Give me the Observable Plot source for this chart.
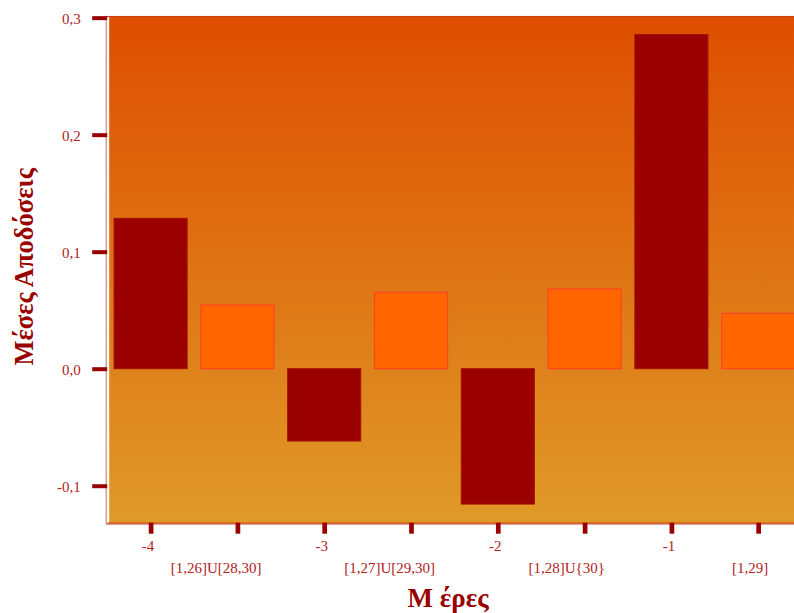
<!DOCTYPE html>
<html>
<head>
<meta charset="utf-8">
<script src="https://cdn.jsdelivr.net/npm/d3@7"></script>
<script src="https://cdn.jsdelivr.net/npm/@observablehq/plot@0.6"></script>
<style>
  html, body { margin: 0; padding: 0; background: #ffffff; overflow: hidden; }
  #chart { width: 794px; height: 613px; overflow: hidden; }
  #chart svg { display: block; }
</style>
</head>
<body>
<div id="chart"></div>
<script>
// Day groups on the horizontal axis, in drawing order
const categories = ["-4", "[1,26]U[28,30]", "-3", "[1,27]U[29,30]", "-2", "[1,28]U{30}", "-1", "[1,29]"];
// Mean return of each group
const meanReturns = [0.1285, 0.0544, -0.0618, 0.0653, -0.1157, 0.0681, 0.2856, 0.0473];
// Vertical axis ticks and their labels (comma decimals)
const yTicks = [-0.1, 0.0, 0.1, 0.2, 0.3];
const yTickLabels = ["-0,1", "0,0", "0,1", "0,2", "0,3"];

const yTitle = "Μέσες Αποδόσεις";
const xTitle = "Μ έρες";

const rows = categories.map((c, i) => ({
  day: c,
  value: meanReturns[i],
  single: i % 2 === 0,
  row: i % 2
}));

const serif = "'Liberation Serif', 'Times New Roman', serif";

const chart = Plot.plot({
  width: 794,
  height: 613,
  marginTop: 16,
  marginBottom: 90.3,
  marginLeft: 107.2,
  marginRight: 0,
  style: { fontFamily: serif, background: "transparent", overflow: "hidden" },
  x: { type: "band", domain: categories, range: [107.2, 801.6], paddingInner: 0.158, paddingOuter: 0.079, round: false },
  y: { domain: [-0.1316, 0.3014] },
  marks: [
    // plot panel: pink edge, then gradient body
    Plot.frame({ stroke: "#d08888", strokeWidth: 1.2, insetLeft: -1.5, insetBottom: -1 }),
    Plot.frame({ fill: "url(#panelGradient)", insetLeft: 1.5 }),
    Plot.ruleY([0.3014], { stroke: "#c8401a", strokeWidth: 1 }),
    Plot.ruleY([-0.1316], { stroke: "#d04a10", strokeWidth: 1.2 }),

    // bars
    Plot.barY(rows.filter(d => d.single), {
      x: "day", y: "value", fill: "#9a0000", stroke: "#a41200", strokeWidth: 1
    }),
    Plot.barY(rows.filter(d => !d.single), {
      x: "day", y: "value", fill: "#ff6600", stroke: "#ff4422", strokeWidth: 1.2
    }),

    // y axis: thick ticks, then labels
    Plot.axisY({ ticks: yTicks, tickSize: 15, tickFormat: () => "", label: null,
      color: "#990000", strokeWidth: 4 }),
    Plot.axisY({ ticks: yTicks, tickSize: 0, tickPadding: 27, label: null,
      tickFormat: d => yTickLabels[yTicks.indexOf(d)], color: "#b02222", fontSize: 15, dy: 1 }),

    // x axis ticks
    Plot.axisX({ tickSize: 11, tickFormat: () => "", label: null, color: "#990000", strokeWidth: 4.7 }),

    // category labels on two staggered rows
    Plot.text(rows.filter(d => d.row === 0), {
      x: "day", text: "day", frameAnchor: "bottom", lineAnchor: "middle", dy: 22.5,
      fill: "#b02222", fontSize: 15
    }),
    Plot.text(rows.filter(d => d.row === 1), {
      x: "day", text: "day", frameAnchor: "bottom", lineAnchor: "middle", dy: 45.2,
      fill: "#b02222", fontSize: 15
    }),

    // axis titles
    Plot.text([yTitle], {
      text: d => d, frameAnchor: "left", textAnchor: "middle", lineAnchor: "middle",
      rotate: -90, dx: -83, dy: -3,
      fill: "#990000", fontSize: 26.5, fontWeight: "bold"
    }),
    Plot.text([xTitle], {
      text: d => d, frameAnchor: "bottom", textAnchor: "middle", lineAnchor: "middle",
      dx: -3, dy: 75.5,
      fill: "#990000", fontSize: 27, fontWeight: "bold"
    })
  ]
});

// vertical gradient for the panel
const defs = d3.select(chart).insert("defs", ":first-child");
const grad = defs.append("linearGradient")
  .attr("id", "panelGradient")
  .attr("x1", 0).attr("y1", 0).attr("x2", 0).attr("y2", 1);
grad.append("stop").attr("offset", "0%").attr("stop-color", "#de4e00");
grad.append("stop").attr("offset", "100%").attr("stop-color", "#df9a28");

document.getElementById("chart").appendChild(chart);

// category labels sit slightly left of their tick
const labelSet = new Set(categories);
d3.select(chart).selectAll("text").each(function () {
  if (!labelSet.has(this.textContent)) return;
  const len = this.getComputedTextLength();
  this.setAttribute("x", (-0.24 * len).toFixed(1));
});
</script>
</body>
</html>
